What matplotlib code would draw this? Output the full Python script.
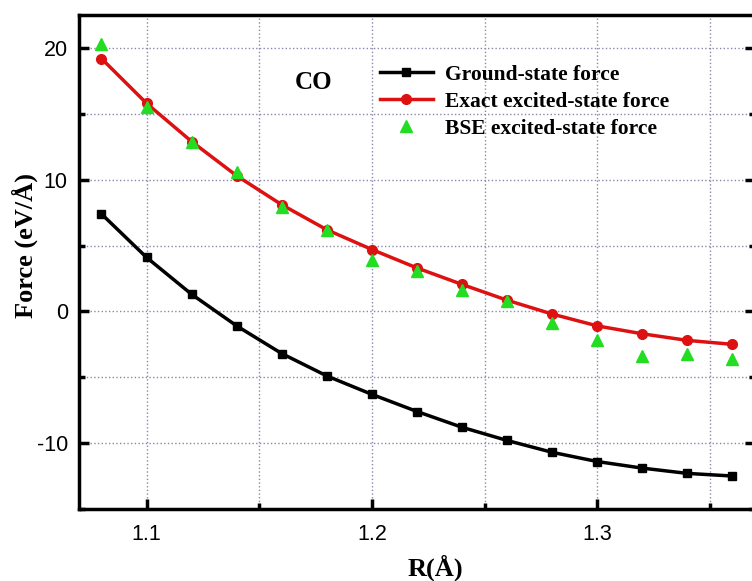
import numpy as np
import matplotlib
matplotlib.use("Agg")
import matplotlib.pyplot as plt
from matplotlib.ticker import MultipleLocator

plt.rcParams["axes.unicode_minus"] = False

# bond length R (Angstrom)
r = [1.08, 1.10, 1.12, 1.14, 1.16, 1.18, 1.20, 1.22, 1.24, 1.26, 1.28, 1.30, 1.32, 1.34, 1.36]

ground = [7.4, 4.1, 1.3, -1.1, -3.2, -4.9, -6.3, -7.6, -8.8, -9.8, -10.7, -11.4, -11.9, -12.3, -12.5]
exact = [19.2, 15.8, 12.9, 10.3, 8.1, 6.2, 4.7, 3.3, 2.05, 0.85, -0.2, -1.1, -1.7, -2.2, -2.5]
bse = [20.3, 15.5, 12.9, 10.6, 7.9, 6.2, 3.9, 3.1, 1.6, 0.8, -0.9, -2.2, -3.35, -3.2, -3.6]

serif = ["Liberation Serif", "DejaVu Serif"]
sans = ["Liberation Sans", "DejaVu Sans"]

fig = plt.figure(figsize=(7.52, 5.81), dpi=100)
ax = fig.add_axes([0.105, 0.124, 0.899, 0.850])

ax.plot(r, ground, color="black", lw=2.5, marker="s", ms=6, label="Ground-state force", zorder=3)
ax.plot(r, exact, color="#dd1111", lw=2.5, marker="o", ms=7, label="Exact excited-state force", zorder=3)
ax.plot(r, bse, color="#22dd22", lw=0, marker="^", ms=9, label="BSE excited-state force", zorder=4)

ax.set_xlim(1.07, 1.37)
ax.set_ylim(-15, 22.5)
ax.xaxis.set_major_locator(MultipleLocator(0.1))
ax.xaxis.set_minor_locator(MultipleLocator(0.05))
ax.yaxis.set_major_locator(MultipleLocator(10))
ax.yaxis.set_minor_locator(MultipleLocator(5))

ax.grid(which="both", ls=":", color="#8888aa", lw=1.0)
ax.tick_params(which="both", direction="in", top=False, right=True, width=2.5)
ax.tick_params(which="major", length=7, labelsize=15.5, pad=8)
ax.tick_params(axis="x", which="major", pad=11)
ax.tick_params(which="minor", length=4)
for lab in ax.get_xticklabels() + ax.get_yticklabels():
    lab.set_family(sans)
for s in ax.spines.values():
    s.set_linewidth(2.5)

ax.set_xlabel("R(Å)", family=serif, fontweight="bold", fontsize=19)
ax.set_ylabel("Force (eV/Å)", family=serif, fontweight="bold", fontsize=19)
ax.xaxis.set_label_coords(0.527, -0.093)
ax.yaxis.set_label_coords(-0.061, 0.534)

ax.text(1.174, 17.4, "CO", family=serif, fontweight="bold", fontsize=18, ha="center", va="center")

ax.legend(loc="upper left", bbox_to_anchor=(0.445, 0.90), frameon=False,
          prop={"family": serif, "weight": "bold", "size": 15.5},
          handlelength=2.46, handletextpad=0.56, labelspacing=0.33, borderaxespad=0,
          borderpad=0)

fig.savefig("out.png", dpi=100)
